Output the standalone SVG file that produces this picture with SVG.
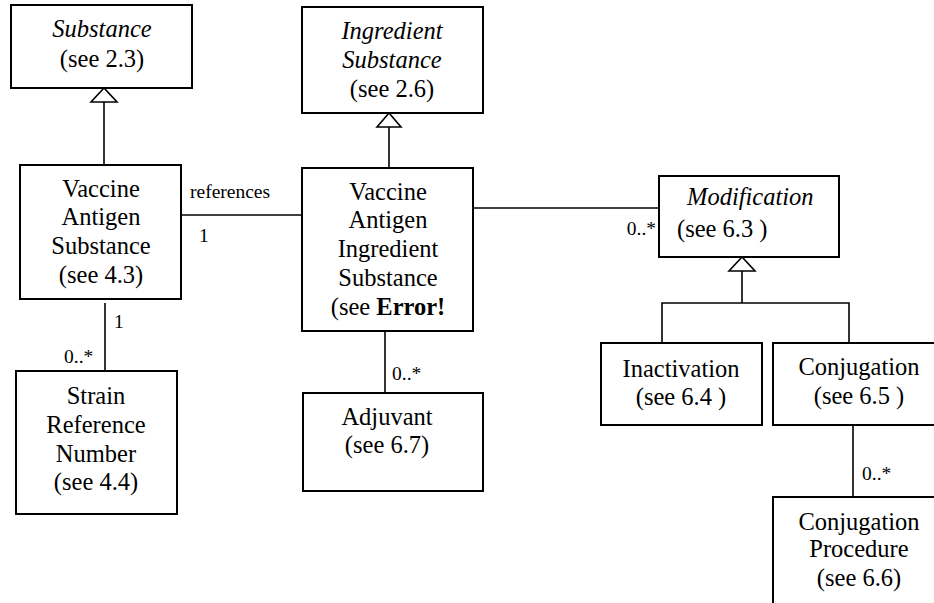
<svg xmlns="http://www.w3.org/2000/svg" width="934" height="603" viewBox="0 0 934 603" font-family="'Liberation Serif', 'Times New Roman', Times, serif">
<style>
.box{fill:#fff;stroke:#000;stroke-width:2}
.ln{fill:none;stroke:#000;stroke-width:1.6}
.tri{fill:#fff;stroke:#000;stroke-width:1.6}
text{fill:#000}
.t{font-size:24.5px;text-anchor:middle}
.s{font-size:24.5px;text-anchor:start}
.i{font-style:italic}
.lbl{font-size:19.5px}
</style>
<rect width="934" height="603" fill="#fff"/>
<g id="connectors">
<line class="ln" x1="104" y1="102" x2="104" y2="165"/>
<polygon class="tri" points="104,88 91,102 117,102"/>
<line class="ln" x1="389" y1="127" x2="389" y2="168"/>
<polygon class="tri" points="389,113 377,127 401,127"/>
<line class="ln" x1="181" y1="215" x2="302" y2="215"/>
<text class="lbl" x="190" y="198">references</text>
<text class="lbl" x="199" y="242">1</text>
<line class="ln" x1="105" y1="303" x2="105" y2="371"/>
<text class="lbl" x="114" y="328">1</text>
<text class="lbl" x="64" y="363">0..*</text>
<line class="ln" x1="385" y1="331" x2="385" y2="393"/>
<text class="lbl" x="392" y="380">0..*</text>
<line class="ln" x1="473" y1="208" x2="659" y2="208"/>
<text class="lbl" x="656" y="235" text-anchor="end">0..*</text>
<line class="ln" x1="742" y1="271" x2="742" y2="303"/>
<polygon class="tri" points="742,257 729,271 755,271"/>
<polyline class="ln" points="662,343 662,303 849,303 849,343"/>
<line class="ln" x1="853" y1="425" x2="853" y2="497"/>
<text class="lbl" x="862" y="480">0..*</text>
</g>
<g id="substance">
<rect class="box" x="11" y="5" width="181" height="83"/>
<text class="t i" x="102" y="37">Substance</text>
<text class="t" x="102" y="67">(see 2.3)</text>
</g>
<g id="ingredient-substance">
<rect class="box" x="302" y="7" width="181" height="106"/>
<text class="t i" x="392" y="39">Ingredient</text>
<text class="t i" x="392" y="68">Substance</text>
<text class="t" x="392" y="97">(see 2.6)</text>
</g>
<g id="vaccine-antigen-substance">
<rect class="box" x="20" y="165" width="161" height="134"/>
<text class="t" x="101" y="197">Vaccine</text>
<text class="t" x="101" y="225">Antigen</text>
<text class="t" x="101" y="254">Substance</text>
<text class="t" x="101" y="283">(see 4.3)</text>
</g>
<g id="vaccine-antigen-ingredient-substance">
<rect class="box" x="302" y="168" width="171" height="163"/>
<text class="t" x="388" y="200">Vaccine</text>
<text class="t" x="388" y="228">Antigen</text>
<text class="t" x="388" y="257">Ingredient</text>
<text class="t" x="388" y="286">Substance</text>
<text class="t" x="388" y="315">(see <tspan font-weight="bold">Error!</tspan></text>
</g>
<g id="modification">
<rect class="box" x="659" y="176" width="180" height="81"/>
<text class="s i" x="687" y="205">Modification</text>
<text class="s" x="677" y="237">(see 6.3 )</text>
</g>
<g id="strain-reference-number">
<rect class="box" x="16" y="371" width="161" height="143"/>
<text class="t" x="96" y="404">Strain</text>
<text class="t" x="96" y="433">Reference</text>
<text class="t" x="96" y="462">Number</text>
<text class="t" x="96" y="490">(see 4.4)</text>
</g>
<g id="adjuvant">
<rect class="box" x="303" y="393" width="180" height="98"/>
<text class="t" x="387" y="425">Adjuvant</text>
<text class="t" x="387" y="453">(see 6.7)</text>
</g>
<g id="inactivation">
<rect class="box" x="601" y="343" width="161" height="82"/>
<text class="t" x="681" y="377">Inactivation</text>
<text class="t" x="681" y="405">(see 6.4 )</text>
</g>
<g id="conjugation">
<rect class="box" x="773" y="343" width="170" height="82"/>
<text class="t" x="859" y="375">Conjugation</text>
<text class="t" x="859" y="404">(see 6.5 )</text>
</g>
<g id="conjugation-procedure">
<rect class="box" x="773" y="497" width="170" height="120"/>
<text class="t" x="859" y="530">Conjugation</text>
<text class="t" x="859" y="557">Procedure</text>
<text class="t" x="859" y="586">(see 6.6)</text>
</g>
</svg>
